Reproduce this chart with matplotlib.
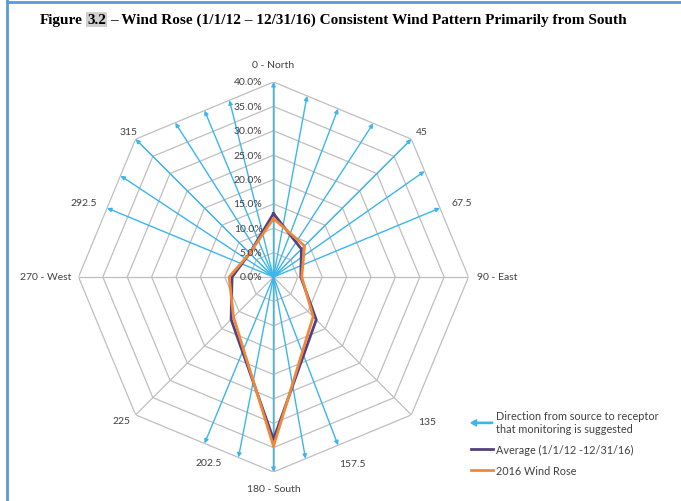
import numpy as np
import matplotlib
matplotlib.use('Agg')
import matplotlib.pyplot as plt
from matplotlib.lines import Line2D
from matplotlib.patches import FancyArrow, Patch
from matplotlib.legend_handler import HandlerPatch

# wind rose data (% of time wind comes from each direction)
directions = [0, 45, 90, 135, 180, 225, 270, 315]
dir_labels = ['0 - North', '45', '90 - East', '135', '180 - South', '225', '270 - West', '315']
avg_pct = [13.0, 8.1, 5.6, 12.4, 33.3, 12.3, 8.5, 6.9]
wr2016_pct = [12.0, 9.0, 5.8, 11.5, 34.7, 11.6, 9.1, 6.9]
ring_ticks = [0, 5, 10, 15, 20, 25, 30, 35, 40]

# suggested monitoring directions (source -> receptor)
arrow_dirs = [-67.5, -56.5, -45, -32.5, -22.5, -14, 0, 10.5, 21, 33, 45, 55, 67.5,
              159, 170, 180, 191, 202.5]
extra_labels = ['67.5', '157.5', '202.5', '292.5']

# label placement (theta deg, r) - layout only
lab_pos = {'0 - North': (0, 43.5), '45': (45.7, 42.6), '90 - East': (90, 45.8),
           '135': (133.2, 43.2), '180 - South': (180, 43.3), '225': (226.5, 42.9),
           '270 - West': (270, 46.8), '315': (315.1, 42.1), '67.5': (68.3, 41.6),
           '157.5': (157.2, 41.6), '202.5': (199.2, 40.2), '292.5': (291.3, 41.8)}

W, H = 681, 502
grid_c = '#BFBFBF'
blue = '#3BB6EC'
purple = '#54407F'
orange = '#F0883A'
txt_c = '#404040'
fs = 7.5
plt.rcParams['font.family'] = ['Lato', 'DejaVu Sans']

fig = plt.figure(figsize=(W / 100, H / 100), dpi=100)
cx, cy, R = 273.5, 224, 195
ax = fig.add_axes([(cx - R) / W, (cy - R) / H, 2 * R / W, 2 * R / H], projection='polar')
ax.set_theta_zero_location('N')
ax.set_theta_direction(-1)
ax.set_ylim(0, 40)
ax.grid(False)
ax.spines['polar'].set_visible(False)
ax.set_xticks([])
ax.set_yticks([])

th = np.radians(directions + [directions[0]])
for r in ring_ticks[1:]:
    ax.plot(th, [r] * len(th), color=grid_c, lw=0.9, zorder=1)
for d in directions:
    ax.plot([np.radians(d)] * 2, [0, 40], color=grid_c, lw=0.9, zorder=1)

for r in ring_ticks:
    ax.annotate('%.1f%%' % r, xy=(0, r), xytext=(-8, 0), textcoords='offset points',
                ha='right', va='center', fontsize=fs, color=txt_c, zorder=5)

# arrows end on the outer octagon
for d in arrow_dirs:
    off = abs(((d + 22.5) % 45) - 22.5)
    r_tip = 40 * np.cos(np.radians(22.5)) / np.cos(np.radians(22.5 - off))
    ax.annotate('', xy=(np.radians(d), r_tip), xytext=(0, 0),
                arrowprops=dict(arrowstyle='-|>', color=blue, lw=1.0, mutation_scale=6,
                                shrinkA=0, shrinkB=0), zorder=2)

ax.plot(th, avg_pct + [avg_pct[0]], color=purple, lw=2.0, zorder=3)
ax.plot(th, wr2016_pct + [wr2016_pct[0]], color=orange, lw=2.0, zorder=4)

for lab in dir_labels + extra_labels:
    t, r = lab_pos[lab]
    ax.text(np.radians(t), r, lab, ha='center', va='center', fontsize=fs,
            color=txt_c, clip_on=False)


def make_arrow(legend, orig_handle, xdescent, ydescent, width, height, fontsize):
    return FancyArrow(width, 0.5 * height, -width, 0, width=0.9, head_width=4.5,
                      head_length=4, length_includes_head=True, color=blue, lw=0)


arrow_h = Patch(color=blue)
handles = [arrow_h,
           Line2D([], [], color=purple, lw=2),
           Line2D([], [], color=orange, lw=2)]
labels = ['Direction from source to receptor\nthat monitoring is suggested',
          'Average (1/1/12 -12/31/16)', '2016 Wind Rose']
leg = fig.legend(handles, labels, loc='upper left', bbox_to_anchor=(471 / W, 1 - 411 / H),
                 frameon=False, fontsize=7.8, handlelength=2.0, handletextpad=0.3,
                 labelspacing=0.9, borderpad=0, borderaxespad=0,
                 handler_map={arrow_h: HandlerPatch(patch_func=make_arrow)},
                 labelcolor=txt_c)
for t in leg.get_texts():
    t.set_linespacing(1.26)

# title
tfont = dict(family='Liberation Serif', weight='bold', fontsize=11, color='black')
t1 = fig.text(40 / W, 1 - 24 / H, 'Figure', va='baseline', **tfont)
t2 = ax.annotate('3.2', xy=(1, 0), xycoords=t1, xytext=(3, 0), textcoords='offset points',
                 va='bottom', ha='left', annotation_clip=False,
                 bbox=dict(boxstyle='square,pad=0.05', fc='#D0D0D0', ec='none'), **tfont)
t3 = ax.annotate('\u2013 Wind Rose (1/1/12 \u2013 12/31/16) Consistent Wind Pattern Primarily from South',
                 xy=(1, 0), xycoords=t2, xytext=(3, 0), textcoords='offset points',
                 va='bottom', ha='left', annotation_clip=False, **tfont)

# page frame lines
fig.add_artist(Line2D([7 / W, 7 / W], [0, 1], transform=fig.transFigure, color='#5B9BD5', lw=2))
fig.add_artist(Line2D([7 / W, 1], [1 - 3 / H, 1 - 3 / H], transform=fig.transFigure,
                      color='#5B9BD5', lw=2))

fig.savefig('out.png', dpi=100)
